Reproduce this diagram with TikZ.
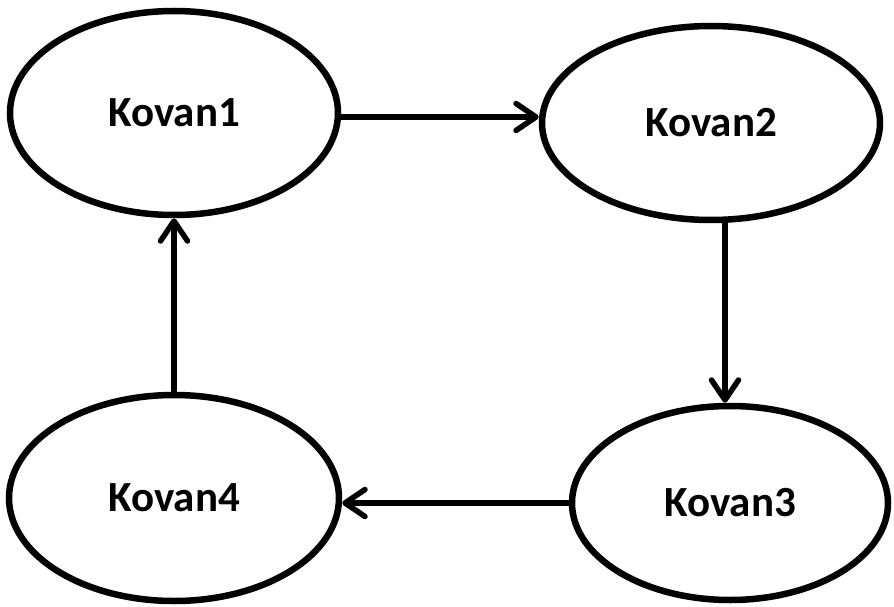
\documentclass[tikz,border=0pt]{standalone}
\usepackage{fontspec}
\setmainfont{Carlito}
\usetikzlibrary{shapes.geometric,arrows.meta}
\begin{document}
\begin{tikzpicture}[x=1pt,y=-1pt,
  kovan/.style={ellipse,draw,line width=6.5pt,inner sep=0pt,
    font=\fontsize{43}{50}\selectfont\bfseries},
  flow/.style={line width=5.5pt,
    -{Straight Barb[length=20pt,width=27pt,line cap=round,line join=round]}}]
\useasboundingbox (0,0) rectangle (894,607);
% the four states
\node[kovan,minimum width=328pt,minimum height=204pt] (k1) at (174,113) {Kovan1};
\node[kovan,minimum width=338pt,minimum height=194pt] (k2) at (711,123) {Kovan2};
\node[kovan,minimum width=316pt,minimum height=194pt] (k3) at (730,503) {Kovan3};
\node[kovan,minimum width=330pt,minimum height=206pt] (k4) at (174,498) {Kovan4};
% the cycle between them
\coordinate (c12) at (0,117);
\coordinate (c23) at (725,0);
\draw[flow] (k1.east |- c12) -- (k2.west |- c12);
\draw[flow] (k2.south -| c23) -- (k3.north -| c23);
\draw[flow] (k3.west) -- (k4.east |- k3.west);
\draw[flow] (k4.north) -- (k1.south -| k4.north);
\end{tikzpicture}
\end{document}
